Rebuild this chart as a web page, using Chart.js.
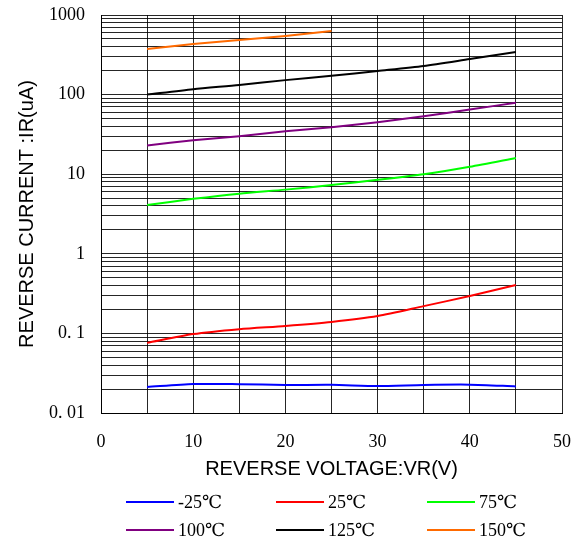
<!DOCTYPE html>
<html>
<head>
<meta charset="utf-8">
<script src="https://cdn.jsdelivr.net/npm/chart.js@4"></script>
<style>
  body { margin: 0; background: #fff; }
  #wrap { position: relative; width: 582px; height: 543px; }
  #legend { position: absolute; left: 0; top: 0; width: 582px; height: 543px; pointer-events: none;
            font-family: "Liberation Serif", "DejaVu Serif", serif; font-size: 18px; color: #000; }
  .item { position: absolute; height: 22px; line-height: 22px; white-space: nowrap; }
  .item span.ln { position: absolute; left: 0; top: 10px; width: 48px; height: 2px; }
  .item span.tx { position: absolute; left: 52px; top: 0; }
</style>
</head>
<body>
<div id="wrap">
  <canvas id="chart" width="582" height="543"></canvas>
  <div id="legend"></div>
</div>
<script>
const voltages = [5, 10, 15, 20, 25, 30, 35, 40, 45];
const seriesNames = ['-25℃', '25℃', '75℃', '100℃', '125℃', '150℃'];
const seriesColors = ['#0000ff', '#ff0000', '#00ff00', '#800080', '#000000', '#ff6a00'];

const irMinus25 = [0.0212, 0.0231, 0.0230, 0.0225, 0.0226, 0.0218, 0.0225, 0.0227, 0.0216];
const ir25 = [0.076, 0.098, 0.113, 0.124, 0.139, 0.165, 0.22, 0.295, 0.405];
const ir75 = [4.1, 4.9, 5.7, 6.4, 7.3, 8.5, 10.0, 12.4, 16.0];
const ir100 = [23, 26.7, 30, 34.7, 39, 45, 53.5, 65, 79];
const ir125 = [100, 117, 132, 152, 172, 198, 229, 280, 343];
const ir150 = [374, 432, 485, 545, 630];

const seriesValues = [irMinus25, ir25, ir75, ir100, ir125, ir150];

const yDecades = [0.01, 0.1, 1, 10, 100, 1000];
const yTickLabels = ['0. 01', '0. 1', '1', '10', '100', '1000'];
const xTickLabels = ['0', '10', '20', '30', '40', '50'];

const datasets = seriesValues.map((vals, i) => ({
  label: seriesNames[i],
  data: vals.map((v, j) => ({ x: voltages[j], y: v })),
  borderColor: seriesColors[i],
  backgroundColor: seriesColors[i],
  borderWidth: 2,
  pointRadius: 0,
  tension: 0.25,
  fill: false
}));

const gridColor = 'rgba(0,0,0,0.85)';
const tickFont = { family: '"Liberation Serif", "DejaVu Serif", serif', size: 18 };
const titleFont = { family: '"Liberation Sans", Arial, sans-serif', size: 20 };

new Chart(document.getElementById('chart'), {
  type: 'line',
  data: { datasets: datasets },
  options: {
    responsive: false,
    animation: false,
    layout: { padding: { left: 0, top: 15, right: 20, bottom: 62 } },
    plugins: { legend: { display: false }, tooltip: { enabled: false } },
    scales: {
      x: {
        type: 'linear',
        min: 0,
        max: 50,
        border: { display: true, color: '#000', width: 1 },
        grid: { color: gridColor, lineWidth: 1, drawTicks: false },
        ticks: {
          stepSize: 5,
          autoSkip: false,
          maxRotation: 0,
          padding: 18,
          color: '#000',
          font: tickFont,
          callback: function(v) {
            const idx = xTickLabels.indexOf(String(v));
            return idx >= 0 ? xTickLabels[idx] : '';
          }
        },
        title: {
          display: true,
          text: 'REVERSE VOLTAGE:VR(V)',
          color: '#000',
          font: titleFont,
          padding: { top: 0, bottom: 0 }
        },
        afterFit: function(scale) {
          scale.height = 68;
          scale.paddingLeft = 0;
          scale.paddingRight = 0;
        }
      },
      y: {
        type: 'logarithmic',
        min: 0.01,
        max: 1000,
        border: { display: true, color: '#000', width: 1 },
        grid: { color: gridColor, lineWidth: 1, drawTicks: false },
        afterBuildTicks: function(scale) {
          const ticks = [];
          yDecades.forEach((d, i) => {
            if (i === yDecades.length - 1) {
              ticks.push({ value: d });
            } else {
              for (let k = 1; k < 10; k++) ticks.push({ value: +(d * k).toPrecision(3) });
            }
          });
          scale.ticks = ticks;
        },
        ticks: {
          autoSkip: false,
          padding: 16,
          color: '#000',
          font: tickFont,
          callback: function(v) {
            const idx = yDecades.findIndex(d => Math.abs(d - v) < d * 1e-6);
            return idx >= 0 ? yTickLabels[idx] : '';
          }
        },
        title: {
          display: true,
          text: 'REVERSE CURRENT :IR(uA)',
          color: '#000',
          font: titleFont,
          padding: { top: 15, bottom: 0 }
        },
        afterFit: function(scale) {
          scale.width = 101;
          scale.paddingTop = 0;
          scale.paddingBottom = 0;
        }
      }
    }
  }
});

// legend below the plot: three columns, two rows
const legend = document.getElementById('legend');
const colX = [126, 276, 427];
const rowY = [491, 519];
seriesNames.forEach((name, i) => {
  const el = document.createElement('div');
  el.className = 'item';
  el.style.left = colX[i % 3] + 'px';
  el.style.top = rowY[Math.floor(i / 3)] + 'px';
  el.innerHTML = '<span class="ln" style="background:' + seriesColors[i] + '"></span><span class="tx">' + name + '</span>';
  legend.appendChild(el);
});
</script>
</body>
</html>
